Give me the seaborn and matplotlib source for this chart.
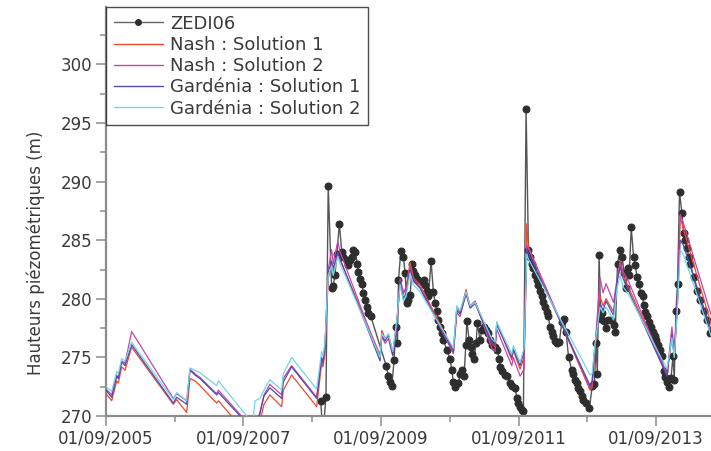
import numpy as np
import pandas as pd
import seaborn as sns
import matplotlib.pyplot as plt
import matplotlib.dates as mdates
from matplotlib.ticker import MultipleLocator
from matplotlib.lines import Line2D

# observed piezometric levels (ZEDI06), decimal years
obs_year = [2008.789, 2008.822, 2008.866, 2008.899, 2008.949, 2008.972, 2008.997, 2009.022, 2009.059, 2009.094,
            2009.118, 2009.167, 2009.190, 2009.215, 2009.240, 2009.263, 2009.288, 2009.321, 2009.336, 2009.360,
            2009.385, 2009.409, 2009.433, 2009.458, 2009.481, 2009.516, 2009.739, 2009.772, 2009.797, 2009.822,
            2009.855, 2009.880, 2009.903, 2009.918, 2009.953, 2009.990, 2010.015, 2010.040, 2010.063, 2010.088,
            2010.121, 2010.136, 2010.161, 2010.185, 2010.209, 2010.258, 2010.292, 2010.306, 2010.331, 2010.354,
            2010.393, 2010.427, 2010.452, 2010.476, 2010.500, 2010.524, 2010.549, 2010.572, 2010.622, 2010.670,
            2010.694, 2010.718, 2010.742, 2010.790, 2010.815, 2010.849, 2010.873, 2010.898, 2010.913, 2010.946,
            2010.971, 2010.994, 2011.019, 2011.048, 2011.067, 2011.106, 2011.131, 2011.164, 2011.193, 2011.218,
            2011.252, 2011.276, 2011.324, 2011.358, 2011.382, 2011.397, 2011.430, 2011.470, 2011.503, 2011.542,
            2011.576, 2011.615, 2011.640, 2011.663, 2011.688, 2011.713, 2011.736, 2011.775, 2011.809, 2011.833,
            2011.858, 2011.881, 2011.906, 2011.931, 2011.954, 2011.979, 2012.003, 2012.027, 2012.051, 2012.076,
            2012.099, 2012.124, 2012.149, 2012.172, 2012.197, 2012.230, 2012.259, 2012.294, 2012.328, 2012.357,
            2012.393, 2012.440, 2012.463, 2012.488, 2012.512, 2012.536, 2012.560, 2012.585, 2012.609, 2012.648,
            2012.696, 2012.739, 2012.769, 2012.793, 2012.812, 2012.837, 2012.862, 2012.885, 2012.910, 2012.939,
            2012.972, 2013.007, 2013.045, 2013.070, 2013.103, 2013.142, 2013.167, 2013.201, 2013.225, 2013.249,
            2013.273, 2013.302, 2013.336, 2013.361, 2013.385, 2013.409, 2013.444, 2013.467, 2013.481, 2013.506,
            2013.531, 2013.554, 2013.589, 2013.618, 2013.641, 2013.666, 2013.691, 2013.724, 2013.749, 2013.772,
            2013.797, 2013.822, 2013.845, 2013.880, 2013.909, 2013.928, 2013.953, 2013.976, 2014.005, 2014.040,
            2014.063, 2014.088, 2014.113, 2014.136, 2014.161, 2014.209, 2014.258, 2014.306, 2014.355, 2014.404,
            2014.452]
obs_level = [271.3, 268.5, 271.6, 289.6, 280.9, 281.1, 282.0, 283.8, 286.4, 284.0,
             283.6, 283.3, 282.9, 283.3, 283.6, 284.2, 284.0, 283.0, 282.3, 281.7,
             281.3, 280.5, 279.9, 279.3, 278.8, 278.5, 274.3, 273.4, 272.9, 272.6,
             274.8, 277.6, 276.2, 281.6, 284.1, 283.6, 282.2, 279.6, 279.9, 280.3,
             283.0, 282.4, 282.0, 281.7, 281.6, 281.4, 281.6, 281.2, 280.7, 280.2,
             283.2, 280.6, 279.6, 279.0, 278.2, 277.6, 277.1, 276.5, 275.6, 274.9,
             273.9, 272.9, 272.5, 272.8, 273.6, 273.9, 273.4, 276.1, 278.1, 276.5,
             275.9, 275.3, 274.9, 276.2, 277.9, 276.5, 277.3, 277.6, 277.3, 277.1,
             276.5, 276.1, 275.9, 275.6, 274.9, 274.2, 273.8, 273.5, 273.4, 272.8,
             272.6, 272.4, 271.5, 271.1, 270.8, 270.5, 270.4, 296.2, 284.2, 283.6,
             283.0, 282.6, 282.0, 281.6, 281.2, 280.7, 280.2, 279.7, 279.3, 278.9,
             278.5, 277.6, 277.2, 276.8, 276.4, 276.2, 276.3, 278.0, 278.3, 277.2,
             275.0, 273.9, 273.6, 273.1, 272.8, 272.4, 272.1, 271.7, 271.4, 271.1,
             270.7, 272.6, 272.7, 276.2, 273.6, 283.7, 278.3, 278.8, 278.1, 277.5,
             278.2, 278.2, 277.8, 277.2, 283.0, 284.2, 283.6, 282.2, 280.9, 282.6,
             282.0, 286.1, 283.6, 282.9, 281.9, 281.3, 280.5, 280.2, 279.5, 278.9,
             278.5, 278.0, 277.6, 277.2, 276.8, 276.5, 276.1, 275.6, 275.1, 273.8,
             273.3, 272.9, 272.5, 273.2, 275.1, 273.1, 279.0, 281.3, 289.1, 287.3,
             285.6, 285.0, 284.3, 283.6, 283.0, 281.9, 280.7, 279.9, 279.0, 278.2,
             277.1]

# simulated levels, decimal years
sim_year = [2005.667, 2005.749, 2005.822, 2005.845, 2005.894, 2005.942, 2006.040, 2006.073, 2006.645, 2006.694,
            2006.840, 2006.888, 2006.961, 2007.033, 2007.276, 2007.302, 2007.713, 2007.804, 2007.833, 2007.906,
            2007.964, 2008.051, 2008.222, 2008.245, 2008.367, 2008.731, 2008.803, 2008.822, 2008.851, 2008.899,
            2008.949, 2008.972, 2009.036, 2009.070, 2009.651, 2009.676, 2009.724, 2009.772, 2009.836, 2009.894,
            2009.942, 2009.990, 2010.030, 2010.088, 2010.136, 2010.233, 2010.718, 2010.767, 2010.815, 2010.902,
            2010.961, 2011.033, 2011.276, 2011.324, 2011.349, 2011.567, 2011.590, 2011.688, 2011.746, 2011.785,
            2011.809, 2012.706, 2012.735, 2012.779, 2012.851, 2012.895, 2012.939, 2013.045, 2013.099, 2013.142,
            2013.186, 2013.263, 2013.822, 2013.894, 2013.928, 2013.971, 2014.015, 2014.059, 2014.466]
nash_1 = [271.9, 271.3, 273.0, 272.8, 274.2, 273.9, 275.9, 275.6, 271.0, 271.4,
          270.3, 273.2, 273.0, 272.6, 271.1, 271.3, 268.5, 268.0, 268.5, 269.5,
          271.0, 271.8, 270.8, 272.2, 273.5, 270.8, 274.5, 274.2, 275.3, 281.8,
          282.8, 282.3, 283.8, 283.3, 275.2, 277.3, 276.6, 277.0, 275.4, 278.0,
          281.3, 280.4, 281.0, 283.1, 281.8, 281.2, 275.6, 279.3, 278.8, 280.8,
          279.3, 279.8, 276.2, 275.9, 278.0, 274.8, 275.6, 274.0, 275.0, 286.4,
          284.4, 272.2, 272.4, 275.8, 280.2, 279.4, 280.0, 278.9, 281.5, 283.0,
          282.0, 281.0, 273.6, 276.8, 275.0, 279.0, 287.0, 286.0, 277.8]
nash_2 = [272.3, 271.8, 273.5, 273.2, 274.7, 274.5, 277.2, 276.9, 271.5, 271.9,
          271.3, 274.0, 273.6, 273.3, 271.9, 272.2, 269.5, 268.7, 269.0, 270.3,
          271.8, 272.7, 271.8, 273.2, 274.3, 271.6, 274.8, 274.4, 275.7, 282.5,
          284.2, 283.0, 284.9, 284.0, 274.9, 276.8, 276.2, 276.6, 275.1, 277.6,
          281.7, 280.6, 280.9, 282.7, 281.6, 281.0, 275.3, 278.8, 278.5, 280.5,
          279.4, 279.8, 275.8, 275.5, 277.4, 274.3, 275.0, 273.4, 274.0, 284.6,
          284.3, 272.4, 272.6, 276.0, 281.8, 280.5, 281.3, 279.7, 281.8, 283.2,
          282.3, 281.5, 273.5, 277.6, 275.5, 279.5, 287.2, 286.5, 278.6]
gardenia_1 = [272.2, 271.6, 273.4, 273.2, 274.6, 274.3, 276.1, 275.8, 271.1, 271.6,
              271.0, 273.9, 273.5, 273.2, 271.8, 272.0, 269.4, 268.6, 269.0, 270.2,
              271.7, 272.4, 271.5, 272.9, 274.2, 271.5, 275.0, 274.6, 275.9, 282.3,
              283.2, 282.6, 284.0, 283.4, 274.7, 276.9, 276.4, 276.9, 275.2, 277.9,
              281.5, 280.0, 280.5, 282.5, 281.5, 280.9, 275.5, 279.0, 278.7, 280.4,
              279.2, 279.6, 276.3, 276.0, 277.8, 275.0, 275.7, 274.3, 275.5, 284.2,
              283.9, 272.6, 273.0, 276.2, 279.6, 279.0, 279.8, 278.6, 281.6, 282.7,
              281.7, 280.7, 273.4, 277.0, 275.1, 279.3, 285.0, 284.6, 277.3]
gardenia_2 = [272.5, 272.1, 273.8, 273.6, 274.9, 274.7, 276.3, 276.0, 271.4, 272.0,
              271.3, 274.1, 273.9, 273.7, 272.6, 273.0, 270.0, 269.5, 271.3, 271.5,
              272.2, 273.1, 272.2, 273.6, 275.0, 272.3, 275.5, 275.1, 276.3, 282.0,
              282.8, 282.0, 283.6, 283.0, 275.0, 277.0, 276.6, 277.0, 275.5, 278.2,
              281.2, 279.8, 280.2, 282.2, 281.2, 280.6, 275.8, 279.4, 279.0, 280.6,
              279.4, 279.7, 276.6, 276.3, 278.0, 275.3, 276.0, 274.6, 275.8, 283.8,
              283.4, 273.5, 273.6, 276.2, 279.3, 278.8, 279.3, 278.2, 281.0, 282.0,
              281.0, 280.4, 274.0, 276.7, 275.0, 278.8, 284.2, 283.8, 276.8]

series_names = ['Nash : Solution 1', 'Nash : Solution 2',
                'Gardénia : Solution 1', 'Gardénia : Solution 2']
series_colors = ['#f2472c', '#c545aa', '#4f4bb0', '#74d4e8']
tick_years = [2005, 2007, 2009, 2011, 2013]


def to_date(years):
    years = np.asarray(years)
    base = pd.to_datetime(years.astype(int).astype(str), format='%Y')
    return base + pd.to_timedelta((years - years.astype(int)) * 365.25, unit='D')


obs = pd.DataFrame({'date': to_date(obs_year), 'level': obs_level})
sim = pd.DataFrame({'date': to_date(sim_year), series_names[0]: nash_1,
                    series_names[1]: nash_2, series_names[2]: gardenia_1,
                    series_names[3]: gardenia_2})
sim = sim.melt(id_vars='date', var_name='series', value_name='level')

sns.set_style('ticks')
plt.rcParams['font.family'] = ['DejaVu Sans']
text_col = '#3a3a3a'
axis_col = '#8c8c8c'

fig = plt.figure(figsize=(7.11, 4.51), dpi=100)
ax = fig.add_axes([0.149, 0.0776, 0.851, 0.9069])

sns.lineplot(data=obs, x='date', y='level', ax=ax, color='#555555', lw=1.0,
             marker='o', markersize=5, markerfacecolor='#2e2e2e',
             markeredgecolor='#2e2e2e', zorder=2)
sns.lineplot(data=sim, x='date', y='level', hue='series', hue_order=series_names,
             palette=series_colors, ax=ax, lw=0.9, legend=False, zorder=3)

ax.set_yticks([270, 275, 280, 285, 290, 295, 300])
ax.yaxis.set_minor_locator(MultipleLocator(2.5))
ax.set_xticks([pd.Timestamp(f'{y}-09-01') for y in tick_years])
ax.set_xticks([pd.Timestamp(f'{y + 1}-09-01') for y in tick_years], minor=True)
ax.xaxis.set_major_formatter(mdates.DateFormatter('%d/%m/%Y'))
# limits last so the tick setters cannot widen them
ax.set_xlim(pd.Timestamp('2005-09-01'), pd.Timestamp('2014-06-19'))
ax.set_ylim(270, 304.9)

sns.despine(ax=ax)
for s in ['left', 'bottom']:
    ax.spines[s].set_color(axis_col)
    ax.spines[s].set_linewidth(1.6)
ax.tick_params(which='major', length=7, width=1.1, color=axis_col,
               labelsize=12, labelcolor=text_col, pad=3)
ax.tick_params(which='minor', length=4, width=1.1, color=axis_col)
ax.set_xlabel('')
ax.set_ylabel('Hauteurs piézométriques (m)', fontsize=12, color=text_col)
ax.yaxis.set_label_coords(-0.101, 0.40)

handles = [Line2D([], [], color='#666666', lw=1, marker='o', markersize=4,
                  markerfacecolor='#2e2e2e', markeredgecolor='#2e2e2e')]
handles += [Line2D([], [], color=c, lw=1) for c in series_colors]
leg = ax.legend(handles, ['ZEDI06'] + series_names, loc='upper left',
                bbox_to_anchor=(0, 1), borderaxespad=0, fontsize=13,
                frameon=True, fancybox=False, handlelength=2.75,
                labelspacing=0.18, borderpad=0.42, handletextpad=0.4)
leg.get_frame().set_edgecolor('#222222')
leg.get_frame().set_linewidth(1)
for t in leg.get_texts():
    t.set_color(text_col)

fig.savefig('out.png', dpi=100)
